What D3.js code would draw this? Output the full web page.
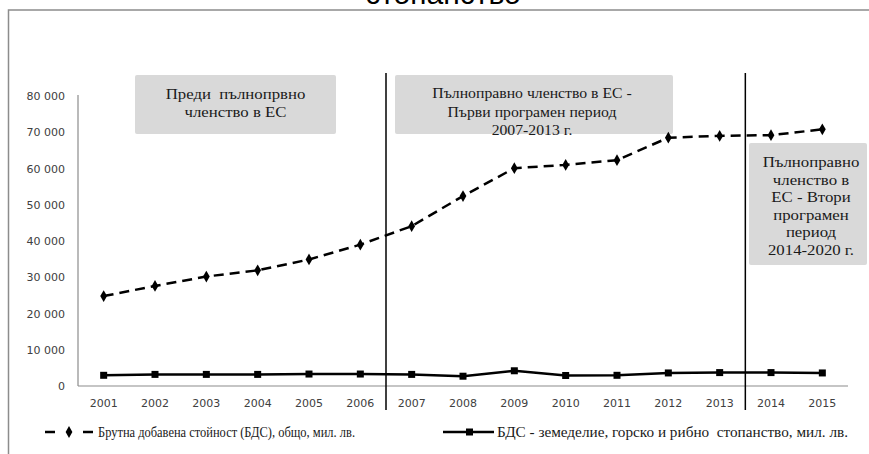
<!DOCTYPE html>
<html><head><meta charset="utf-8">
<script src="https://cdn.jsdelivr.net/npm/d3@7"></script>
<style>body{margin:0;background:#fff;overflow:hidden}svg{display:block}</style>
</head><body><svg id="c" width="869" height="454"></svg>
<script>
const years = ["2001","2002","2003","2004","2005","2006","2007","2008","2009","2010","2011","2012","2013","2014","2015"];
const gvaTotal = [24800,27600,30200,31900,34900,39000,44100,52400,60100,61000,62300,68500,69000,69200,70800];
const gvaAgri = [2950,3200,3200,3200,3300,3300,3200,2700,4200,2900,2950,3600,3700,3700,3600];
const yTicks = [0,10000,20000,30000,40000,50000,60000,70000,80000];
const seriesNames = ["Брутна добавена стойност (БДС), общо, мил. лв.","БДС - земеделие, горско и рибно  стопанство, мил. лв."];
const titleText = "стопанство";
const boxTexts = [
  ["Преди  пълнопрвно","членство в ЕС"],
  ["Пълноправно членство в ЕС -","Първи програмен период","2007-2013 г."],
  ["Пълноправно","членство в","ЕС - Втори","програмен","период","2014-2020 г."]
];
const dividerAfter = ["2006","2013"];

const svg = d3.select("#c");
const x = d3.scaleBand().domain(years).range([78,848]);
const y = d3.scaleLinear().domain([0,80000]).range([386,96]);
const cx = d => x(d)+x.bandwidth()/2;
const serif = "Liberation Serif, Times New Roman, serif";
const sans = "DejaVu Sans, Verdana, sans-serif";

// frame
svg.append("rect").attr("x",8.5).attr("y",10).attr("width",880).attr("height",470)
  .attr("fill","none").attr("stroke","#8c8c8c").attr("stroke-width",1.5);

// title (cut off)
svg.append("text").attr("x",443).attr("y",4).attr("text-anchor","middle")
  .attr("font-family","Liberation Sans, Arial, sans-serif").attr("font-size",30).attr("fill","#000")
  .text(titleText);

// boxes
const boxes = [
  {x0:135,x1:336,y0:75,y1:134,cx:235.5,ly:[94,112],sx:1.12},
  {x0:395,x1:673,y0:75,y1:134,cx:532,ly:[93,111.5,130],sx:1.05},
  {x0:749,x1:867,y0:143,y1:265,cx:811,ly:[162,179.5,197,214.5,232,249.5],sx:1.12}
];
boxes.forEach((b,i)=>{
  svg.append("rect").attr("x",b.x0).attr("y",b.y0).attr("width",b.x1-b.x0).attr("height",b.y1-b.y0)
    .attr("rx",2).attr("fill","#d9d9d9");
  const g = svg.append("g").attr("transform",`translate(${b.cx},0) scale(${b.sx},1)`);
  boxTexts[i].forEach((t,j)=>{
    g.append("text").attr("x",0).attr("y",b.ly[j]).attr("dy","0.35em").attr("text-anchor","middle")
      .attr("font-family",serif).attr("font-size",15).attr("fill","#1a1a1a")
      .style("white-space","pre").text(t);
  });
});

// axes
const gx = svg.append("g").attr("transform","translate(0,386)")
  .call(d3.axisBottom(x).tickSize(0).tickPadding(0));
gx.select(".domain").attr("stroke","#8c8c8c").attr("stroke-width",1.2).attr("d","M78,0H848");
gx.selectAll("text").attr("y",17).attr("dy","0.35em").attr("font-family",sans)
  .attr("font-size",11).attr("fill","#404040");

const gy = svg.append("g").attr("transform","translate(78,0)")
  .call(d3.axisLeft(y).tickValues(yTicks).tickSize(0).tickPadding(13)
    .tickFormat(d=>d3.format(",")(d).replace(/,/g," ")));
gy.select(".domain").attr("stroke","#8c8c8c").attr("stroke-width",1.2).attr("d","M0,95V386");
gy.selectAll("text").attr("font-family",sans).attr("font-size",11).attr("fill","#404040");

// divider lines
dividerAfter.forEach(d=>{
  const xv = x(d)+x.bandwidth();
  svg.append("line").attr("x1",xv).attr("x2",xv).attr("y1",73).attr("y2",410)
    .attr("stroke","#000").attr("stroke-width",1.5);
});

// lines
const line = d3.line().x((d,i)=>cx(years[i])).y(d=>y(d));
svg.append("path").datum(gvaTotal).attr("d",line).attr("fill","none").attr("stroke","#000")
  .attr("stroke-width",2.5).attr("stroke-dasharray","10,6");
svg.append("path").datum(gvaAgri).attr("d",line).attr("fill","none").attr("stroke","#000")
  .attr("stroke-width",2.5);
const diamond = d3.symbol().type(d3.symbolDiamond).size(40);
svg.selectAll(".dm").data(gvaTotal).join("path").attr("class","dm")
  .attr("transform",(d,i)=>`translate(${cx(years[i])},${y(d)})`).attr("d",diamond).attr("fill","#000");
svg.selectAll(".sq").data(gvaAgri).join("rect").attr("class","sq")
  .attr("x",(d,i)=>cx(years[i])-3.5).attr("y",d=>y(d)-3.5).attr("width",7).attr("height",7).attr("fill","#000");

// legend
const ly = 432;
svg.append("line").attr("x1",45).attr("x2",95).attr("y1",ly).attr("y2",ly).attr("stroke","#000")
  .attr("stroke-width",2.5).attr("stroke-dasharray","10,28");
svg.append("path").attr("transform",`translate(69,${ly})`).attr("d",diamond).attr("fill","#000");
svg.append("text").attr("x",98).attr("y",ly).attr("dy","0.35em")
  .attr("font-family",serif).attr("font-size",14).attr("fill","#1a1a1a")
  .attr("textLength",257).attr("lengthAdjust","spacingAndGlyphs")
  .text(seriesNames[0]);
svg.append("line").attr("x1",443).attr("x2",494).attr("y1",ly).attr("y2",ly).attr("stroke","#000").attr("stroke-width",2.5);
svg.append("rect").attr("x",466).attr("y",ly-3.5).attr("width",7).attr("height",7).attr("fill","#000");
svg.append("text").attr("x",497).attr("y",ly).attr("dy","0.35em")
  .attr("font-family",serif).attr("font-size",14).attr("fill","#1a1a1a")
  .attr("textLength",351).attr("lengthAdjust","spacingAndGlyphs")
  .style("white-space","pre").text(seriesNames[1]);
</script></body></html>
